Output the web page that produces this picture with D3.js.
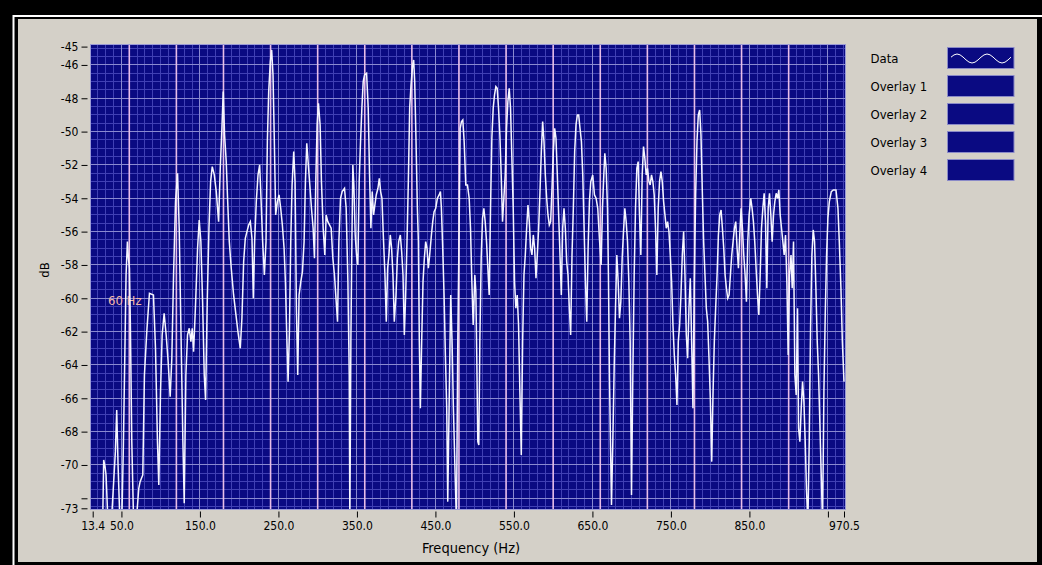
<!DOCTYPE html>
<html lang="en">
<head>
    <meta charset="UTF-8">
    <title>Spectrum</title>
    <script src="https://d3js.org/d3.v7.min.js"></script>
    <style>
        body {
            margin: 0;
            background-color: #000;
        }

        svg text {
            font-family: "DejaVu Sans Condensed", "Liberation Sans", sans-serif;
            font-size: 12px;
            fill: #000;
        }
    </style>
</head>
<body>
    <svg id="chart" width="1042" height="565"></svg>
    <script>
        // Spectrum trace (Hz, dB)
        const freqHz = [
            13.4, 18.0, 22.7, 26.1, 27.4, 29.1, 30.4, 32.5, 36.3, 40.6,
            42.3, 44.0, 45.7, 47.8, 50.4, 52.5, 54.6, 55.9, 57.6, 58.9,
            60.2, 61.4, 63.2, 65.3, 69.5, 72.1, 73.8, 77.2, 79.3, 82.3,
            85.7, 90.8, 93.4, 95.9, 97.6, 99.8, 101.9, 104.4, 107.0, 109.5,
            112.1, 114.2, 116.4, 118.9, 121.5, 123.6, 125.7, 128.3, 130.0, 132.1,
            134.2, 136.4, 138.5, 140.2, 141.9, 144.4, 147.0, 149.1, 151.2, 153.4,
            155.5, 157.2, 159.3, 161.5, 163.6, 165.7, 168.3, 170.8, 173.8, 175.9,
            178.0, 179.7, 181.4, 183.5, 185.2, 187.4, 189.9, 192.9, 195.9, 198.4,
            201.4, 203.5, 205.7, 207.8, 209.9, 212.1, 214.2, 216.3, 218.0, 219.7,
            221.8, 224.0, 226.1, 227.8, 229.9, 232.1, 234.2, 235.9, 237.6, 239.7,
            241.4, 243.1, 244.8, 246.5, 248.7, 250.8, 252.9, 255.0, 257.2, 258.9,
            260.6, 262.3, 264.0, 265.7, 267.4, 269.5, 271.2, 272.9, 274.6, 276.3,
            278.5, 280.6, 282.7, 284.4, 286.1, 287.8, 290.0, 292.1, 294.2, 295.9,
            297.6, 299.3, 301.0, 303.1, 304.8, 307.0, 309.1, 310.8, 312.9, 315.1,
            317.2, 319.3, 321.4, 323.6, 325.3, 327.0, 329.1, 331.2, 334.2, 336.3,
            338.5, 340.2, 341.0, 342.3, 343.6, 344.8, 346.1, 347.8, 349.5, 351.2,
            352.9, 354.6, 356.3, 358.0, 359.7, 362.3, 364.4, 366.1, 367.8, 369.5,
            371.2, 372.9, 374.6, 376.8, 378.5, 380.2, 381.9, 383.6, 385.7, 387.4,
            389.1, 390.8, 392.5, 394.2, 395.9, 397.6, 399.8, 401.5, 403.2, 405.3,
            407.0, 408.7, 410.4, 412.1, 413.8, 415.5, 417.2, 418.9, 421.0, 422.3,
            423.6, 425.3, 427.0, 428.3, 429.5, 430.8, 432.5, 434.2, 435.9, 437.6,
            439.3, 441.0, 442.7, 444.9, 446.6, 448.3, 450.4, 452.5, 454.7, 456.4,
            457.6, 459.3, 461.0, 462.7, 464.4, 465.7, 467.4, 469.5, 471.2, 472.9,
            475.1, 476.8, 478.5, 480.2, 481.5, 483.2, 484.9, 486.6, 488.7, 490.8,
            493.0, 494.7, 496.4, 498.1, 500.2, 501.5, 502.7, 504.0, 505.3, 506.6,
            508.3, 510.0, 511.7, 513.4, 515.1, 516.8, 518.5, 520.2, 521.9, 523.6,
            525.3, 527.0, 528.7, 530.4, 532.1, 533.8, 535.5, 537.2, 538.9, 540.6,
            542.3, 544.0, 545.7, 547.4, 549.1, 550.8, 552.5, 554.2, 555.9, 557.6,
            559.4, 561.1, 562.8, 564.5, 566.2, 567.9, 569.6, 571.3, 573.0, 574.7,
            576.4, 578.1, 579.8, 581.5, 583.2, 584.9, 586.6, 588.3, 590.0, 591.7,
            593.4, 595.1, 596.8, 598.5, 600.2, 601.9, 603.6, 605.3, 607.0, 608.7,
            610.4, 612.1, 613.8, 615.5, 617.2, 618.9, 620.6, 622.3, 624.0, 625.7,
            627.4, 629.1, 630.8, 632.5, 634.2, 636.0, 637.7, 639.4, 641.1, 642.8,
            644.5, 646.2, 647.9, 650.4, 652.6, 654.7, 656.8, 658.9, 661.1, 662.8,
            664.5, 665.8, 667.5, 669.2, 670.4, 671.7, 673.0, 674.3, 676.0, 677.7,
            679.4, 681.1, 682.8, 684.5, 686.2, 687.9, 689.6, 691.3, 693.0, 694.7,
            696.4, 698.1, 699.8, 701.5, 703.2, 704.9, 706.6, 708.3, 710.0, 711.7,
            713.4, 715.1, 716.8, 718.5, 720.2, 722.0, 723.6, 725.3, 727.0, 728.7,
            730.4, 732.1, 733.8, 735.5, 737.3, 739.0, 740.7, 742.4, 744.1, 745.8,
            747.5, 749.2, 750.9, 752.6, 754.3, 756.0, 757.7, 759.4, 761.1, 762.8,
            764.5, 766.2, 767.9, 769.6, 771.3, 773.0, 774.7, 776.4, 778.1, 779.8,
            781.5, 783.2, 784.9, 786.6, 788.3, 790.0, 791.7, 793.4, 795.1, 796.8,
            798.5, 800.2, 802.0, 803.6, 805.3, 807.0, 808.8, 810.5, 812.2, 813.9,
            815.6, 817.3, 819.0, 820.7, 822.4, 824.1, 825.8, 827.5, 829.2, 830.9,
            832.6, 834.3, 836.0, 837.7, 839.4, 841.1, 842.8, 844.5, 846.2, 847.9,
            849.6, 851.7, 853.4, 855.1, 856.8, 858.5, 860.3, 862.0, 863.7, 865.4,
            867.1, 868.8, 870.5, 872.2, 873.9, 875.6, 877.3, 879.0, 880.7, 882.4,
            884.1, 885.8, 887.5, 889.2, 890.9, 892.6, 894.3, 896.0, 897.7, 899.4,
            901.1, 903.0, 904.5, 906.2, 907.9, 909.6, 911.3, 912.6, 914.3, 916.0,
            917.7, 919.4, 921.1, 922.8, 924.5, 926.2, 927.9, 929.6, 931.3, 933.0,
            934.7, 936.4, 938.1, 939.8, 941.5, 943.2, 944.9, 946.6, 948.3, 950.0,
            951.8, 954.3, 956.9, 960.3, 962.8, 964.5, 966.6, 968.4, 970.5
        ];
        const dB = [
            -76.0, -75.5, -74.6, -73.5, -69.7, -70.1, -70.6, -73.0, -74.2, -70.6,
            -69.2, -66.7, -70.0, -73.0, -73.6, -68.8, -62.6, -58.6, -56.6, -57.6,
            -58.2, -61.6, -68.6, -73.0, -73.0, -71.4, -71.0, -70.6, -64.6, -62.0,
            -59.7, -59.8, -63.0, -68.6, -71.2, -65.6, -62.2, -60.9, -62.2, -63.8,
            -65.9, -63.6, -58.6, -54.2, -52.5, -55.8, -61.6, -68.6, -72.3, -64.6,
            -62.2, -61.8, -62.6, -61.8, -63.2, -60.4, -57.0, -55.3, -56.6, -60.2,
            -64.6, -66.1, -60.2, -55.8, -53.0, -52.1, -52.6, -53.6, -55.4, -52.2,
            -49.8, -47.6, -50.2, -51.8, -54.0, -56.6, -58.2, -59.8, -61.0, -62.0,
            -63.0, -61.2, -57.8, -56.4, -56.0, -55.6, -55.4, -56.4, -60.0, -56.6,
            -54.2, -52.6, -52.0, -54.0, -56.6, -58.6, -56.6, -50.6, -47.6, -45.8,
            -45.1, -46.6, -50.6, -55.0, -54.2, -53.8, -54.6, -55.6, -57.0, -59.0,
            -62.2, -65.0, -62.0, -56.6, -53.2, -51.2, -53.0, -60.6, -64.6, -59.8,
            -59.0, -58.4, -56.6, -53.0, -50.7, -51.8, -53.2, -54.6, -55.8, -57.6,
            -53.0, -49.6, -48.3, -49.6, -53.0, -55.8, -57.4, -55.0, -55.4, -55.6,
            -55.8, -57.6, -58.6, -60.2, -61.4, -56.6, -54.0, -53.6, -53.4, -54.6,
            -59.0, -64.6, -73.5, -62.6, -56.6, -52.0, -53.2, -56.2, -57.4, -58.0,
            -53.0, -50.6, -48.6, -47.0, -46.6, -46.5, -48.6, -52.6, -55.8, -53.6,
            -55.0, -54.4, -53.8, -53.4, -52.8, -53.6, -54.0, -56.2, -58.6, -61.4,
            -58.2, -57.4, -56.2, -57.0, -58.6, -61.4, -59.8, -57.6, -56.6, -56.2,
            -57.2, -58.6, -62.2, -59.8, -56.6, -53.0, -48.6, -47.2, -46.0, -45.7,
            -47.0, -50.6, -54.6, -56.6, -62.6, -66.6, -62.6, -59.0, -57.6, -56.6,
            -57.0, -58.2, -57.4, -56.2, -55.4, -54.8, -54.6, -54.0, -53.8, -53.6,
            -54.6, -57.0, -59.8, -63.4, -66.6, -72.2, -66.6, -59.8, -62.6, -66.6,
            -70.6, -73.5, -62.6, -55.8, -49.8, -49.4, -49.3, -50.6, -53.2, -53.2,
            -54.0, -55.8, -59.0, -61.6, -58.6, -59.6, -63.6, -68.6, -68.8, -62.6,
            -57.6, -55.2, -54.6, -55.4, -56.6, -58.2, -59.8, -54.6, -50.4, -48.6,
            -47.8, -47.3, -47.4, -48.6, -50.2, -52.6, -55.4, -54.0, -52.6, -49.8,
            -48.2, -47.4, -48.6, -51.6, -54.6, -59.0, -60.6, -59.8, -61.6, -65.6,
            -69.4, -62.6, -58.6, -57.4, -55.8, -54.4, -55.4, -57.0, -57.4, -56.2,
            -57.0, -58.8, -57.4, -55.8, -53.6, -51.2, -49.4, -50.6, -52.6, -54.0,
            -55.0, -55.6, -55.4, -53.4, -51.2, -49.8, -50.4, -52.6, -55.0, -57.4,
            -59.8, -55.8, -54.6, -55.8, -57.8, -58.6, -60.6, -62.2, -57.4, -54.6,
            -51.2, -49.6, -49.0, -49.0, -49.8, -50.6, -52.6, -55.8, -59.0, -61.4,
            -57.0, -54.2, -53.0, -52.6, -53.8, -54.0, -54.6, -56.4, -58.0, -54.6,
            -52.6, -51.3, -52.2, -54.6, -58.6, -64.6, -68.6, -72.4, -68.6, -64.2,
            -60.6, -57.4, -59.0, -61.2, -60.2, -57.6, -56.0, -54.6, -55.4, -56.6,
            -59.0, -62.6, -71.8, -64.6, -58.6, -54.6, -52.2, -51.8, -55.0, -57.4,
            -52.6, -50.9, -51.6, -52.6, -52.2, -53.0, -53.2, -52.6, -53.0, -53.8,
            -55.8, -58.6, -54.6, -53.0, -52.4, -53.0, -54.2, -55.0, -55.8, -55.4,
            -56.0, -57.4, -59.0, -61.6, -63.4, -64.6, -66.4, -62.6, -61.6, -59.8,
            -57.4, -56.0, -58.6, -62.2, -63.6, -60.6, -58.8, -62.6, -66.6, -59.0,
            -53.8, -50.6, -49.0, -48.7, -50.2, -53.6, -56.6, -58.6, -60.6, -61.4,
            -63.6, -66.0, -69.8, -65.8, -62.6, -60.6, -58.6, -56.2, -55.0, -54.7,
            -55.8, -57.0, -58.6, -59.4, -60.0, -59.8, -58.6, -57.4, -56.6, -55.8,
            -55.4, -57.0, -58.2, -56.2, -54.6, -55.8, -57.4, -58.6, -60.2, -56.6,
            -55.0, -54.0, -54.6, -55.4, -56.6, -58.2, -59.8, -61.0, -58.6, -55.8,
            -54.6, -53.7, -55.4, -59.4, -54.6, -53.7, -55.0, -56.6, -55.0, -54.2,
            -53.7, -54.0, -53.5, -55.0, -55.8, -56.6, -57.4, -56.2, -59.0, -63.4,
            -58.6, -57.4, -59.4, -56.6, -64.6, -65.8, -60.6, -67.8, -68.6, -66.6,
            -65.0, -66.2, -68.6, -71.6, -73.5, -68.6, -61.8, -57.4, -55.9, -56.6,
            -59.4, -62.6, -64.6, -67.6, -70.6, -73.5, -65.6, -61.0, -57.4, -55.2,
            -54.2, -53.6, -53.5, -53.5, -54.6, -56.6, -59.4, -62.6, -65.0
        ];
        if (freqHz.length !== dB.length) console.error("trace arrays differ", freqHz.length, dB.length);

        // Axis ticks as the instrument shows them
        const xTicks = [13.4, 50, 150, 250, 350, 450, 550, 650, 750, 850, 950, 970.5];
        const xLabels = ["13.4", "50.0", "150.0", "250.0", "350.0", "450.0", "550.0", "650.0", "750.0", "850.0", "", "970.5"];
        const yTicks = [-44.9, -46, -48, -50, -52, -54, -56, -58, -60, -62, -64, -66, -68, -70, -72, -72.6];
        const yLabels = ["-45", "-46", "-48", "-50", "-52", "-54", "-56", "-58", "-60", "-62", "-64", "-66", "-68", "-70", "", "-73"];
        const mainsHarmonics = [60, 120, 180, 240, 300, 360, 420, 480, 540, 600, 660, 720, 780, 840, 900];
        const legendNames = ["Data", "Overlay 1", "Overlay 2", "Overlay 3", "Overlay 4"];

        const svg = d3.select("#chart");

        // window frame
        svg.append("rect").attr("width", 1042).attr("height", 565).attr("fill", "#000");
        svg.append("rect")
            .attr("x", 13.5).attr("y", 16).attr("width", 1040).attr("height", 560)
            .attr("fill", "none").attr("stroke", "#fff").attr("stroke-width", 2);
        svg.append("rect")
            .attr("x", 18).attr("y", 19).attr("width", 1019).attr("height", 543)
            .attr("fill", "#d4d0c8");

        // scales
        const x = d3.scaleLinear().domain([13.4, 970.5]).range([92.7, 844]);
        const y = d3.scaleLinear().domain([-72.6, -44.9]).range([508.3, 46.6]);
        const plot = { left: 90, top: 44, right: 846, bottom: 510 };

        // plot background
        svg.append("rect")
            .attr("x", plot.left).attr("y", plot.top)
            .attr("width", plot.right - plot.left).attr("height", plot.bottom - plot.top)
            .attr("fill", "#0a0a82");

        const grid = svg.append("g").attr("shape-rendering", "crispEdges");

        // minor grid
        grid.selectAll(".vminor")
            .data(d3.range(20, 971, 10))
            .join("line")
            .attr("x1", d => x(d)).attr("x2", d => x(d))
            .attr("y1", plot.top).attr("y2", plot.bottom)
            .attr("stroke", "#4040b4").attr("stroke-width", 1);
        grid.selectAll(".hminor")
            .data(d3.range(-72.5, -44.8, 0.5))
            .join("line")
            .attr("x1", plot.left).attr("x2", plot.right)
            .attr("y1", d => y(d)).attr("y2", d => y(d))
            .attr("stroke", "#4040b4").attr("stroke-width", 1);

        // major grid
        grid.selectAll(".vmajor")
            .data(xTicks.slice(1, -1))
            .join("line")
            .attr("x1", d => x(d)).attr("x2", d => x(d))
            .attr("y1", plot.top).attr("y2", plot.bottom)
            .attr("stroke", "#8a8ad0").attr("stroke-width", 1);
        grid.selectAll(".hmajor")
            .data(yTicks.slice(1, -1))
            .join("line")
            .attr("x1", plot.left).attr("x2", plot.right)
            .attr("y1", d => y(d)).attr("y2", d => y(d))
            .attr("stroke", "#8a8ad0").attr("stroke-width", 1);

        // 60 Hz harmonic cursors
        svg.append("g").selectAll("line")
            .data(mainsHarmonics)
            .join("line")
            .attr("x1", d => x(d)).attr("x2", d => x(d))
            .attr("y1", plot.top).attr("y2", plot.bottom)
            .attr("stroke", "#e8bde8").attr("stroke-width", 1.6);

        svg.append("text")
            .attr("x", 108).attr("y", 305)
            .style("font-size", "13px")
            .style("fill", "#f2b7a6")
            .text("60 Hz");

        // data trace
        svg.append("clipPath").attr("id", "plotClip")
            .append("rect")
            .attr("x", plot.left).attr("y", plot.top)
            .attr("width", plot.right - plot.left).attr("height", plot.bottom - plot.top);

        const line = d3.line()
            .x(i => x(freqHz[i]))
            .y(i => y(dB[i]));

        svg.append("path")
            .datum(d3.range(freqHz.length))
            .attr("clip-path", "url(#plotClip)")
            .attr("d", line)
            .attr("fill", "none")
            .attr("stroke", "#f6f6ff")
            .attr("stroke-width", 1.5)
            .attr("stroke-linejoin", "miter");

        // plot border
        svg.append("rect")
            .attr("x", plot.left + 0.5).attr("y", plot.top + 0.5)
            .attr("width", plot.right - plot.left - 1).attr("height", plot.bottom - plot.top - 1)
            .attr("fill", "none").attr("stroke", "#9a9ad6").attr("stroke-width", 1);

        // axes
        const yAxis = svg.append("g")
            .attr("transform", "translate(87.5,0)")
            .call(d3.axisLeft(y)
                .tickValues(yTicks)
                .tickFormat((d, i) => yLabels[i])
                .tickSize(6)
                .tickPadding(3)
                .tickSizeOuter(0));
        const xAxis = svg.append("g")
            .attr("transform", "translate(0,511.5)")
            .call(d3.axisBottom(x)
                .tickValues(xTicks)
                .tickFormat((d, i) => xLabels[i])
                .tickSize(6)
                .tickPadding(4)
                .tickSizeOuter(0));
        [xAxis, yAxis].forEach(a => {
            a.select(".domain").remove();
            a.selectAll("line").attr("stroke", "#000");
            a.selectAll("text").attr("fill", "#000").style("font-size", "12px");
        });

        svg.append("text")
            .attr("transform", "translate(49,270) rotate(-90)")
            .attr("text-anchor", "middle")
            .style("font-size", "13px")
            .text("dB");
        svg.append("text")
            .attr("x", 471).attr("y", 553)
            .attr("text-anchor", "middle")
            .style("font-size", "14.5px")
            .text("Frequency (Hz)");

        // legend
        const legend = svg.append("g").attr("transform", "translate(0,47.5)");
        const rows = legend.selectAll("g")
            .data(legendNames)
            .join("g")
            .attr("transform", (d, i) => `translate(0,${i * 28})`);
        rows.append("text")
            .attr("x", 870.5).attr("y", 10.5).attr("dy", "0.35em")
            .style("font-size", "13px")
            .text(d => d);
        rows.append("rect")
            .attr("x", 947.5).attr("y", 0)
            .attr("width", 66.5).attr("height", 21)
            .attr("fill", "#0a0a82")
            .attr("stroke", "#8a8ac8").attr("stroke-width", 1);

        // sample wave in the Data swatch
        const wave = d3.range(0, 1.001, 0.05);
        legend.append("path")
            .datum(wave)
            .attr("d", d3.line()
                .x(t => 951 + t * 60)
                .y(t => 11 - 4.5 * Math.sin(t * 4 * Math.PI + 0.3)))
            .attr("fill", "none")
            .attr("stroke", "#fff")
            .attr("stroke-width", 1);
    </script>
</body>
</html>
